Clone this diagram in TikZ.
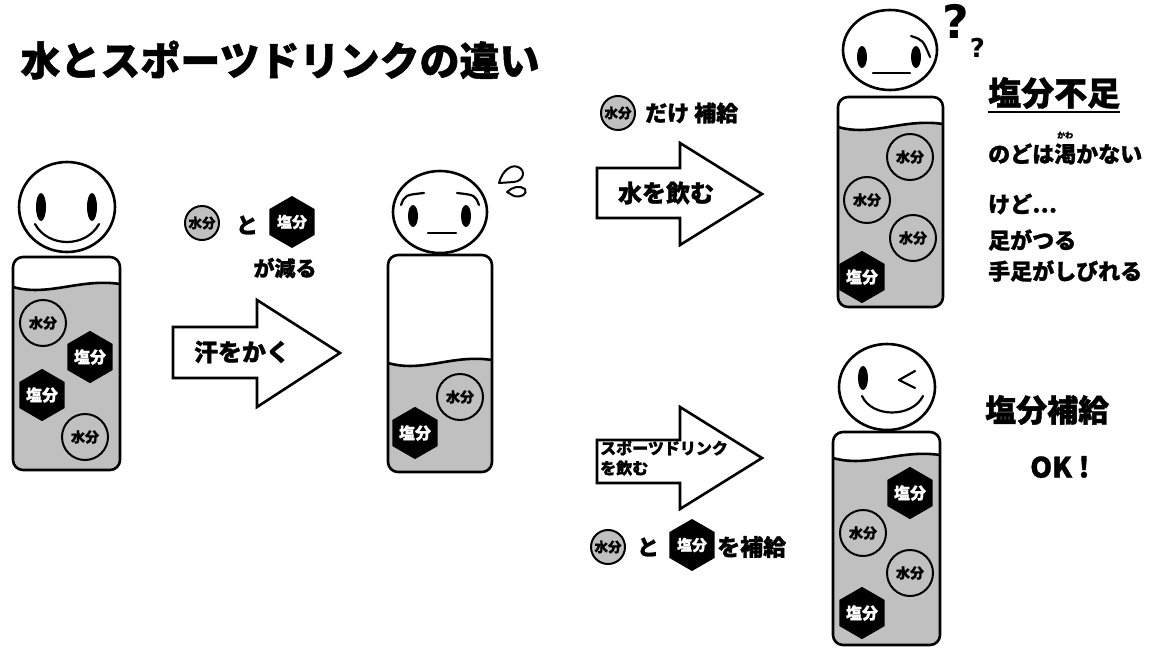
\documentclass[tikz,border=0pt]{standalone}
\usepackage{fontspec}
\setmainfont{Noto Sans CJK JP}[BoldFeatures={FakeBold=1.2}]
\newfontfamily\qfont{DejaVu Sans}
\usetikzlibrary{shapes.geometric}
\definecolor{liquid}{RGB}{192,192,192}
% small reading over one kanji
\newcommand\furigana[2]{\makebox[0pt][l]{\raisebox{1.1em}{\makebox[1em]{\fontsize{8}{8}\selectfont #2}}}#1}
\tikzset{
    jtext/.style={font=\bfseries\fontsize{#1}{#1}\selectfont, inner sep=0pt},
    outline/.style={line width=2.6pt, line join=round},
    feature/.style={line width=2.2pt, line cap=round},
    water/.style={circle, draw, line width=2pt, fill=liquid, minimum size=46pt, jtext=14},
    salt/.style={regular polygon, regular polygon sides=6, shape border rotate=30,
        fill=black, text=white, minimum size=48pt, jtext=16},
    smallwater/.style={water, minimum size=34pt, jtext=13.5},
    smallsalt/.style={salt, minimum size=52pt, jtext=15},
    bigarrow/.style={draw, fill=white, line width=2.6pt, line join=miter},
}
\begin{document}
\begin{tikzpicture}[x=1pt, y=-1pt]
    \useasboundingbox[fill=white] (0,0) rectangle (1151,648);

    \node[jtext=40] (title) at (280,60) {水とスポーツドリンクの違い};

    % bottles: left/right/top/bottom/liquid level
    \foreach \xa/\xb/\ya/\yb/\lv in {13/120/257/470/287, 388/492/255/472/363,
                                      838/943/97/307/127, 833/940/432/645/458}{
        \begin{scope}
            \clip[rounded corners=10pt] (\xa,\ya) rectangle (\xb,\yb);
            \fill[liquid] (\xa,\lv) .. controls ({\xa+35},{\lv+10}) and ({\xb-40},{\lv-9}) .. (\xb,{\lv-3})
                -- (\xb,\yb) -- (\xa,\yb) -- cycle;
            \draw[outline] (\xa,\lv) .. controls ({\xa+35},{\lv+10}) and ({\xb-40},{\lv-9}) .. (\xb,{\lv-3});
        \end{scope}
        \draw[outline, rounded corners=10pt] (\xa,\ya) rectangle (\xb,\yb);
    }

    % smiling head
    \draw[outline, fill=white] (67,207) ellipse [x radius=48, y radius=45];
    \fill (41,207) ellipse [x radius=5, y radius=14];
    \fill (92,207) ellipse [x radius=5, y radius=14];
    \draw[feature] (35,224) .. controls (48,248) and (86,248) .. (99,224);

    % worried head with sweat drops
    \draw[outline, fill=white] (440,212) ellipse [x radius=47, y radius=41];
    \fill (413,216) ellipse [x radius=5, y radius=11];
    \fill (466,216) ellipse [x radius=5, y radius=11];
    \draw[feature] (401,205) .. controls (405,195) .. (424,193);
    \draw[feature] (457,193) .. controls (475,195) .. (479,205);
    \draw[feature] (428,233) -- (456,233);
    \draw[line width=2pt, line join=round] (499,183) .. controls (502,171) and (511,164) .. (518,167)
        .. controls (526,170) and (524,181) .. (514,182) -- cycle;
    \draw[line width=2pt, line join=round] (507,192) .. controls (512,187) and (520,185) .. (525,189)
        .. controls (528,194) and (521,198) .. (514,196) -- cycle;

    % puzzled head
    \draw[outline, fill=white] (890,50) ellipse [x radius=47, y radius=40];
    \fill (862,57) ellipse [x radius=5, y radius=11];
    \fill (916,57) ellipse [x radius=5, y radius=11];
    \draw[feature] (911,36) .. controls (923,40) .. (930,57);
    \draw[feature] (873,73) -- (910,73);
    \node[inner sep=0pt, font=\qfont\bfseries\fontsize{46}{46}\selectfont] (q1) at (956,21) {?};
    \node[inner sep=0pt, anchor=north west, font=\qfont\bfseries\fontsize{26}{26}\selectfont]
        (q2) at (q1.south east) {?};

    % winking head
    \draw[outline, fill=white] (887,387) ellipse [x radius=48, y radius=43];
    \fill (863,378) ellipse [x radius=5, y radius=12];
    \draw[feature, line join=round] (915,371) -- (899,380) -- (915,388);
    \draw[feature] (862,396) .. controls (872,418) and (912,418) .. (923,396);

    % contents of the bottles
    \node[water] (w1a) at (43,323) {水分};
    \node[salt]  (s1a) at (90,357) {塩分};
    \node[salt]  (s1b) at (42,395) {塩分};
    \node[water] (w1b) at (85,437) {水分};

    \node[water] (w2a) at (460,397) {水分};
    \node[salt]  (s2a) at (415,433) {塩分};

    \node[water] (w3a) at (910,157) {水分};
    \node[water] (w3b) at (867,200) {水分};
    \node[water] (w3c) at (913,238) {水分};
    \node[salt]  (s3a) at (862,277) {塩分};

    \node[salt]  (s4a) at (910,493) {塩分};
    \node[water] (w4a) at (863,533) {水分};
    \node[water] (w4b) at (910,573) {水分};
    \node[salt]  (s4b) at (862,613) {塩分};

    % sweating
    \draw[bigarrow] (173,327) -- (257,327) -- (257,300) -- (340,353) -- (257,407) -- (257,378) -- (173,378) -- cycle;
    \node[jtext=24] (sweat) at (242,352) {汗をかく};
    \node[smallwater] (lossw) at (202,223) {水分};
    \node[jtext=22]   (lossand) at (247,225) {と};
    \node[smallsalt]  (losss) at (292,222) {塩分};
    \node[jtext=21]   (loss) at (285,268) {が減る};

    % drinking water
    \draw[bigarrow] (597,168) -- (680,168) -- (680,143) -- (762,194) -- (680,245) -- (680,218) -- (597,218) -- cycle;
    \node[jtext=24] (drinkw) at (666,193) {水を飲む};
    \node[smallwater] (onlyw) at (618,113) {水分};
    \node[jtext=22, anchor=west] (only) at (645,113) {だけ 補給};

    % drinking a sports drink
    \draw[bigarrow] (597,440) -- (680,440) -- (680,407) -- (762,458) -- (680,509) -- (680,483) -- (597,483) -- cycle;
    \node[inner sep=0pt, anchor=west, align=left, font=\bfseries\fontsize{16}{20}\selectfont]
        (drinks) at (600,458) {スポーツドリンク\\を飲む};
    \node[smallwater] (bothw) at (608,547) {水分};
    \node[jtext=22]   (bothand) at (648,547) {と};
    \node[smallsalt]  (boths) at (692,545) {塩分};
    \node[jtext=23, anchor=west] (both) at (717,547) {を補給};

    % results
    \node[jtext=33, anchor=west] (lack) at (988,93) {塩分不足};
    \draw[line width=2.5pt] ([yshift=-3pt]lack.south west) -- ([yshift=-3pt]lack.south east);
    \node[jtext=22, anchor=west] (thirst) at (988,148) {のどは\furigana{渇}{かわ}かない};
    \node[jtext=22, anchor=west] (but) at (988,204) {けど…};
    \node[jtext=22, anchor=west] (cramp) at (988,240) {足がつる};
    \node[jtext=22, anchor=west] (numb) at (988,271) {手足がしびれる};

    \node[jtext=31, anchor=west] (refill) at (985,410) {塩分補給};
    \node[jtext=28, anchor=west] (ok) at (1030,467) {OK !};
\end{tikzpicture}
\end{document}
